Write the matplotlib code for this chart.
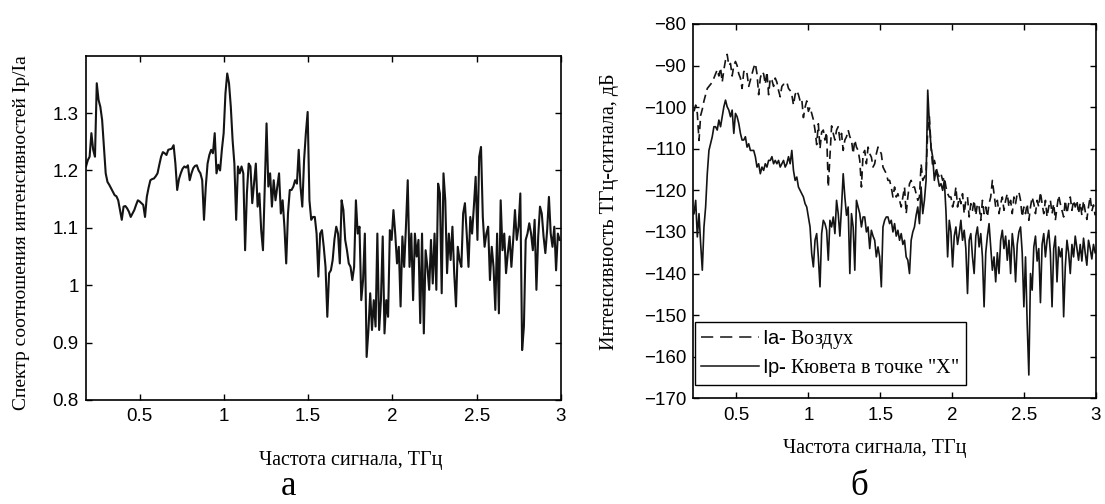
import numpy as np
import matplotlib
matplotlib.use("Agg")
import matplotlib.pyplot as plt
from matplotlib.lines import Line2D

# ---------------- data ----------------
# Panel a: ratio spectrum Ip/Ia, frequency grid in THz
freq_a_start, freq_a_end = 0.182, 2.992
ratio_ip_ia = [
    1.207, 1.218, 1.224, 1.265, 1.236, 1.224, 1.352, 1.323, 1.311, 1.288,
    1.241, 1.195, 1.180, 1.175, 1.169, 1.163, 1.157, 1.155, 1.148, 1.131,
    1.114, 1.137, 1.138, 1.134, 1.128, 1.119, 1.125, 1.131, 1.140, 1.148,
    1.146, 1.143, 1.140, 1.119, 1.154, 1.170, 1.183, 1.185, 1.186, 1.190,
    1.195, 1.210, 1.224, 1.232, 1.230, 1.227, 1.236, 1.237, 1.238, 1.244,
    1.212, 1.166, 1.185, 1.195, 1.203, 1.207, 1.205, 1.209, 1.183, 1.195,
    1.204, 1.208, 1.209, 1.200, 1.195, 1.183, 1.114, 1.172, 1.212, 1.227,
    1.236, 1.230, 1.265, 1.195, 1.210, 1.200, 1.236, 1.265, 1.334, 1.369,
    1.352, 1.311, 1.253, 1.212, 1.114, 1.207, 1.195, 1.207, 1.195, 1.061,
    1.160, 1.212, 1.207, 1.143, 1.177, 1.212, 1.137, 1.160, 1.096, 1.061,
    1.172, 1.282, 1.172, 1.195, 1.137, 1.183, 1.148, 1.172, 1.195, 1.125,
    1.148, 1.102, 1.038, 1.125, 1.166, 1.166, 1.172, 1.183, 1.177, 1.236,
    1.172, 1.137, 1.218, 1.265, 1.302, 1.148, 1.114, 1.119, 1.119, 1.090,
    1.015, 1.090, 1.096, 1.067, 1.032, 0.945, 1.021, 1.026, 1.044, 1.080,
    1.102, 1.090, 1.038, 1.148, 1.131, 1.079, 1.061, 1.038, 1.032, 1.009,
    1.032, 1.148, 1.090, 1.102, 0.974, 1.009, 1.090, 0.875, 0.922, 0.986,
    0.922, 0.974, 0.928, 1.090, 0.922, 0.974, 1.085, 0.916, 0.974, 0.945,
    1.096, 1.079, 1.131, 1.090, 1.038, 1.067, 0.963, 1.085, 1.032, 1.102,
    1.183, 1.032, 1.090, 0.974, 1.090, 1.050, 1.079, 0.934, 1.090, 0.916,
    1.061, 1.032, 0.992, 1.079, 1.003, 1.090, 0.992, 1.177, 1.160, 0.986,
    1.195, 1.148, 1.021, 1.090, 1.044, 1.102, 1.021, 0.963, 1.067, 1.044,
    1.032, 1.125, 1.143, 1.090, 1.032, 1.119, 1.090, 1.137, 1.189, 1.079,
    1.224, 1.241, 1.119, 1.067, 1.090, 1.102, 1.009, 1.067, 1.032, 0.957,
    1.090, 0.951, 1.148, 1.061, 1.090, 1.021, 1.056, 1.085, 1.032, 1.079,
    1.131, 1.079, 1.102, 1.160, 0.887, 0.928, 1.079, 1.090, 1.108, 1.090,
    1.061, 1.114, 0.992, 1.085, 1.137, 1.125, 1.085, 1.056, 1.096, 1.154,
    1.090, 1.067, 1.102, 1.026, 1.090, 1.079,
]

# Panel b: intensity spectra, dB
freq_b_start, freq_b_end = 0.205, 2.994
ia_air_db = [
    -101, -99.5, -101.5, -108, -102, -100.5, -98.5, -97, -95.5, -95,
    -94.5, -94, -93, -92, -91, -92.5, -90.5, -94, -91, -88.7,
    -87.3, -90, -89.5, -92.5, -90, -89, -90, -92, -93, -95.5,
    -91.5, -91, -92, -95, -93.5, -92, -90.5, -89.5, -92, -97,
    -93, -91.5, -92, -94.5, -91.5, -97, -93, -93.5, -95, -93,
    -94, -96, -97.5, -95, -94.5, -94.5, -94, -95.5, -96, -97,
    -99.5, -97, -96, -97, -98.5, -98, -102.5, -100, -98.5, -101,
    -100, -101.5, -103, -105.5, -109,
    -104, -110, -106, -105.5, -107.9, -106, -119.2, -112, -104.5, -106.3,
    -107.9, -105.5, -104.7, -107.9, -106.3, -110.4, -107.9, -107.1, -105.5, -107.1,
    -107.9, -111.2, -107.9, -109.6, -110.4, -112.8, -119.2, -111.2, -110.4, -113.6,
    -109.6, -111.2, -112, -114.4, -113.6, -111.2, -109.6, -110.4, -111.2, -114.4,
    -115.2, -116, -117.6, -117.6, -119.2, -121.6, -119.2, -121.6, -120.8, -122.4,
    -124, -121.6, -119.2, -125.6, -121.6, -118.4, -117.6, -119.2, -119.2, -120.8,
    -122.4, -121.6, -113.6, -117.6, -116.8, -116, -105.5, -102.3, -109.6, -114.4,
    -112.8, -114.4, -116, -116.8, -116, -117.6, -116.8, -119.2, -120.8, -121.6,
    -121.6, -124, -122.4, -119.2, -124, -121.6, -123.2, -120.8, -125.6, -122.4,
    -121.6, -126.4, -123.2, -124.8, -122.4, -126, -123.2, -124, -127.2, -122.4,
    -125.6, -124, -126.4, -123.2, -121.6, -117.6, -120.8, -124, -122.4, -125.6,
    -123.2, -121.6, -124.8, -122.4, -120.8, -124, -122.4, -125.6, -121.6, -123.2,
    -120.8, -120.4, -122.4, -126.4, -124, -125.6, -123.2, -127.2, -124, -121.6,
    -123.2, -125.6, -122.4, -124, -120.4, -123.2, -125.6, -122.4, -126.4, -124,
    -122.4, -125.6, -123.2, -127.2, -124, -121.2, -123.2, -124.8, -126.4, -122.4,
    -125.6, -123.2, -121.6, -124.8, -122.4, -124, -122.4, -125.6,
    -123, -126, -122.5, -125, -127, -124, -121.5, -125, -123.5, -126,
]
ip_cuvette_db = [
    -125.6, -122.4, -131.2, -125.6, -132.8, -139.2, -128.8, -124, -116, -110.4,
    -108.8, -107.1, -104.7, -104.7, -105.5, -103.1, -104.7, -102.3, -99.9, -98.3,
    -99.9, -100.7, -102.3, -100.7, -106.3, -101.5, -102.3, -103.9, -106.3, -107.9,
    -107.9, -107.1, -109.6, -108.8, -110.4, -110.4, -110.4, -111.9, -114.4, -113.6,
    -116, -114.4, -115.2, -113.6, -114.4, -112.8, -112.8, -111.9, -113.6, -112.8,
    -113.6, -112.8, -114.4, -113.6, -112.8, -114.4, -113.6, -111.9, -113.6, -110.4,
    -115.2, -117.6, -116.8, -119.2, -120, -120.8, -121.6, -123.2, -124, -126.4,
    -128.8, -135.2, -138.4, -132, -130.4,
    -136, -143.2, -130.4, -127.2, -128, -129.6, -136.8, -127.2, -128.8, -126.4,
    -130.4, -122.4, -125.6, -131, -124, -116, -121.6, -126, -124, -140,
    -125.6, -128.8, -139.2, -122.4, -124, -125.6, -128.8, -126.4, -126.4, -130,
    -128.8, -134, -129.6, -131, -132, -136, -133.6, -136, -143.2, -128.8,
    -127.2, -126.4, -126.4, -128, -127.2, -130, -128, -131, -129.6, -132,
    -130.4, -133, -132, -136, -136.8, -140, -132, -130, -128.8, -126,
    -124, -128, -119.2, -125.6, -122.4, -117.6, -95.9, -104, -109.6, -112,
    -117.6, -115.2, -116.8, -119, -118.4, -120, -117.6, -125, -136, -127.2,
    -130, -138.4, -131, -128.8, -133, -130.4, -127.2, -132, -129.6, -134,
    -144.8, -132, -130.4, -136, -140, -131, -128.8, -133.6, -130.4, -136,
    -148, -135, -131, -128, -133.6, -139.2, -136, -142, -135, -140,
    -132, -129.6, -134, -131, -136.8, -132, -140, -130.4, -134, -142,
    -133, -130, -128.8, -135, -148, -136, -152, -164.4, -140, -144,
    -133.6, -131, -137, -134, -147, -133, -130.4, -136, -132, -129.6,
    -135, -148, -134, -131, -142, -133.6, -136, -134, -150.4, -138.4,
    -132, -135, -140, -133, -136, -131, -134, -136.8,
    -133, -137, -131.5, -135, -138, -132, -134, -136.5, -133, -135,
]

# ticks / labels
xticks = [0.5, 1.0, 1.5, 2.0, 2.5, 3.0]
xticklabels = ["0.5", "1", "1.5", "2", "2.5", "3"]
yticks_a = [0.8, 0.9, 1.0, 1.1, 1.2, 1.3]
yticklabels_a = ["0.8", "0.9", "1", "1.1", "1.2", "1.3"]
yticks_b = [-170, -160, -150, -140, -130, -120, -110, -100, -90, -80]
yticklabels_b = ["\u2212170", "\u2212160", "\u2212150", "\u2212140", "\u2212130",
                 "\u2212120", "\u2212110", "\u2212100", "\u221290", "\u221280"]

xlabel = "Частота сигнала, ТГц"
ylabel_a = "Спектр соотношения интенсивностей Ip/Ia"
ylabel_b = "Интенсивность ТГц-сигнала, дБ"
legend_labels = [r'$\mathsf{Ia}$- Воздух', r'$\mathsf{Ip}$- Кювета в точке "X"']
panel_a, panel_b = "а", "б"

# ---------------- drawing ----------------
plt.rcParams['font.family'] = ['Liberation Sans', 'DejaVu Sans']
plt.rcParams['mathtext.fontset'] = 'custom'
plt.rcParams['mathtext.sf'] = 'Liberation Sans'
plt.rcParams['mathtext.rm'] = 'Liberation Serif'

SERIF = ['Liberation Serif', 'DejaVu Serif']
LINE = '#141414'

freq_a = np.linspace(freq_a_start, freq_a_end, len(ratio_ip_ia))
freq_b = np.linspace(freq_b_start, freq_b_end, len(ia_air_db))

W, H = 1105, 504
fig = plt.figure(figsize=(W / 100, H / 100), dpi=100)
fig.patch.set_facecolor('white')

def px_axes(l, t, r, b):
    return [l / W, 1 - b / H, (r - l) / W, (b - t) / H]

ax1 = fig.add_axes(px_axes(85.7, 55.7, 561, 400))
ax2 = fig.add_axes(px_axes(693.3, 24, 1096, 398.3))

ax1.plot(freq_a, ratio_ip_ia, color=LINE, lw=1.5)
ax1.set_xlim(0.18, 3.0)
ax1.set_ylim(0.8, 1.4)
ax1.set_xticks(xticks)
ax1.set_xticklabels(xticklabels)
ax1.set_yticks(yticks_a)
ax1.set_yticklabels(yticklabels_a)

ax2.plot(freq_b, ia_air_db, color=LINE, lw=1.2, ls=(0, (5, 3)))
ax2.plot(freq_b, ip_cuvette_db, color=LINE, lw=1.2)
ax2.set_xlim(0.2, 3.0)
ax2.set_ylim(-170, -80)
ax2.set_xticks(xticks)
ax2.set_xticklabels(xticklabels)
ax2.set_yticks(yticks_b)
ax2.set_yticklabels(yticklabels_b)

for ax in (ax1, ax2):
    ax.tick_params(direction='in', top=True, right=True, length=4, width=1,
                   labelsize=13.5, colors='black')
    ax.tick_params(axis='x', pad=6)
    ax.tick_params(axis='y', pad=5)
    for s in ax.spines.values():
        s.set_linewidth(1.2)
        s.set_color('black')

h1 = Line2D([], [], color=LINE, lw=1.1, ls=(0, (8, 4.5)))
h2 = Line2D([], [], color=LINE, lw=1.1)
leg = ax2.legend([h1, h2], legend_labels, loc='lower left',
                 bbox_to_anchor=(0.004, 0.0355), borderaxespad=0,
                 prop={'family': SERIF, 'size': 14.5}, handlelength=2.9,
                 handletextpad=0.15, borderpad=0.3, labelspacing=0.3,
                 frameon=True, fancybox=False, edgecolor='black', framealpha=1)
leg.get_frame().set_linewidth(1.0)

fig.text(21.5 / W, 1 - 233 / H, ylabel_a, rotation=90, ha='center', va='center',
         family=SERIF, size=14)
fig.text(609.5 / W, 1 - 211.5 / H, ylabel_b, rotation=90, ha='center', va='center',
         family=SERIF, size=14.5)
fig.text(351 / W, 1 - 460 / H, xlabel, ha='center', va='center', family=SERIF, size=14.5)
fig.text(875 / W, 1 - 448 / H, xlabel, ha='center', va='center', family=SERIF, size=14.5)
fig.text(289 / W, 1.0 / H, panel_a, ha='center', va='bottom', family=SERIF, size=25)
fig.text(859 / W, 1.0 / H, panel_b, ha='center', va='bottom', family=SERIF, size=25)

fig.savefig('out.png', dpi=100, facecolor='white')
